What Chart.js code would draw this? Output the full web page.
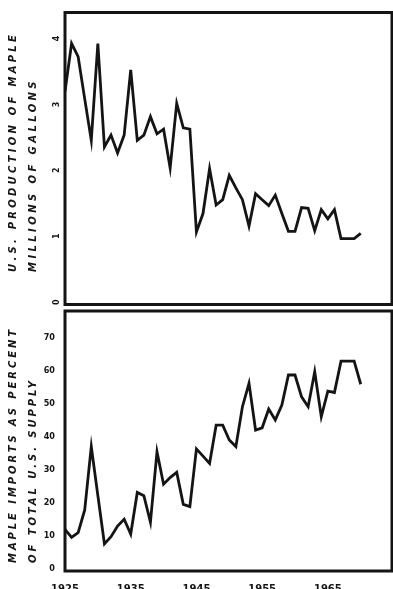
<!DOCTYPE html>
<html>
<head>
<meta charset="utf-8">
<script src="https://cdn.jsdelivr.net/npm/chart.js@4.4.1/dist/chart.umd.min.js"></script>
<style>
  html, body { margin: 0; padding: 0; background: #fff; }
  #wrap { position: relative; width: 393px; height: 589px; overflow: hidden; background: #fff; }
  #topChart { position: absolute; left: 0; top: 0; }
  #bottomChart { position: absolute; left: 0; top: 308px; }
</style>
</head>
<body>
<div id="wrap">
  <canvas id="topChart" width="393" height="308"></canvas>
  <canvas id="bottomChart" width="393" height="281"></canvas>
</div>
<script>
// years on the x axis
var years = [1925, 1926, 1927, 1928, 1929, 1930, 1931, 1932, 1933, 1934,
             1935, 1936, 1937, 1938, 1939, 1940, 1941, 1942, 1943, 1944,
             1945, 1946, 1947, 1948, 1949, 1950, 1951, 1952, 1953, 1954,
             1955, 1956, 1957, 1958, 1959, 1960, 1961, 1962, 1963, 1964,
             1965, 1966, 1967, 1968, 1969, 1970];

// U.S. production of maple, millions of gallons
var production = [3.19, 3.92, 3.72, 3.08, 2.45, 3.92, 2.35, 2.53, 2.26, 2.53,
                  3.52, 2.45, 2.53, 2.81, 2.55, 2.62, 2.03, 3.01, 2.64, 2.62,
                  1.06, 1.34, 2.02, 1.47, 1.55, 1.92, 1.73, 1.55, 1.15, 1.64,
                  1.55, 1.46, 1.62, 1.34, 1.07, 1.07, 1.43, 1.42, 1.08, 1.40,
                  1.26, 1.40, 0.96, 0.96, 0.96, 1.04];

// maple imports as percent of total U.S. supply
var imports = [12.0, 9.6, 11.0, 17.9, 37.1, 22.3, 7.6, 9.8, 13.0, 15.1,
               10.6, 23.2, 22.2, 14.2, 35.5, 25.7, 27.7, 29.3, 19.6, 18.9,
               36.4, 34.2, 32.0, 43.6, 43.6, 39.1, 37.1, 49.2, 56.3, 42.1,
               42.8, 48.5, 45.2, 49.7, 58.8, 58.8, 52.2, 49.2, 59.8, 46.2,
               53.9, 53.5, 63.0, 63.0, 63.0, 56.0];

var yearTicks = [1925, 1935, 1945, 1955, 1965];
var productionTicks = [0, 1, 2, 3, 4];
var importTicks = [0, 10, 20, 30, 40, 50, 60, 70];

var productionTitle = ['U.S. PRODUCTION OF MAPLE', 'MILLIONS OF GALLONS'];
var importTitle = ['MAPLE IMPORTS AS PERCENT', 'OF TOTAL U.S. SUPPLY'];

var ink = '#141414';

function points(values) {
    return years.map(function(yr, i) { return { x: yr, y: values[i] }; });
}

// labels must not push the plot area in
function noScalePadding(s) {
    s.paddingTop = 0;
    s.paddingBottom = 0;
    s.paddingLeft = 0;
    s.paddingRight = 0;
}

// box round the plot area
var framePlugin = {
    id: 'frame',
    beforeDatasetsDraw: function(chart) {
        var a = chart.chartArea, ctx = chart.ctx;
        ctx.save();
        ctx.strokeStyle = ink;
        ctx.lineWidth = 3;
        ctx.strokeRect(a.left, a.top, a.right - a.left, a.bottom - a.top);
        ctx.restore();
    }
};

// two-line rotated axis title, letters spread to the wanted length
var sideTitlePlugin = {
    id: 'sideTitle',
    afterDraw: function(chart, args, opts) {
        var ctx = chart.ctx;
        opts.lines.forEach(function(line) {
            ctx.save();
            ctx.font = 'italic bold 10px "DejaVu Sans", sans-serif';
            ctx.fillStyle = ink;
            ctx.letterSpacing = '0px';
            var natural = ctx.measureText(line.text).width;
            var sp = (line.length - natural) / line.text.length;
            ctx.letterSpacing = sp + 'px';
            ctx.translate(line.x, line.y);
            ctx.rotate(-Math.PI / 2);
            ctx.textAlign = 'left';
            ctx.textBaseline = 'middle';
            ctx.fillText(line.text, 0, 0);
            ctx.restore();
        });
    }
};

var lineStyle = {
    borderColor: ink,
    borderWidth: 2.8,
    pointRadius: 0,
    tension: 0,
    fill: false
};

new Chart(document.getElementById('topChart'), {
    type: 'line',
    data: {
        datasets: [Object.assign({ label: 'Production', data: points(production) }, lineStyle)]
    },
    options: {
        responsive: false,
        animation: false,
        layout: { padding: { left: 0, right: 1, top: 12.5, bottom: 3.5 } },
        plugins: {
            legend: { display: false },
            tooltip: { enabled: false },
            sideTitle: {
                lines: [
                    { text: productionTitle[0], x: 13.5, y: 272, length: 240 },
                    { text: productionTitle[1], x: 33.5, y: 272, length: 194 }
                ]
            }
        },
        scales: {
            x: { type: 'linear', display: false, min: 1925, max: 1974.76 },
            y: {
                min: -0.04, max: 4.39,
                grid: { display: false, drawTicks: false },
                border: { display: false },
                afterBuildTicks: function(s) { s.ticks = productionTicks.map(function(v) { return { value: v }; }); },
                afterFit: function(s) { s.width = 65; noScalePadding(s); },
                ticks: {
                    color: ink, padding: 8, minRotation: 90, maxRotation: 90, labelOffset: -2.5,
                    font: { family: '"DejaVu Sans", sans-serif', size: 8, weight: 'bold' }
                }
            }
        }
    },
    plugins: [framePlugin, sideTitlePlugin]
});

new Chart(document.getElementById('bottomChart'), {
    type: 'line',
    data: {
        datasets: [Object.assign({ label: 'Imports', data: points(imports) }, lineStyle)]
    },
    options: {
        responsive: false,
        animation: false,
        layout: { padding: { left: 0, right: 1, top: 3, bottom: 0 } },
        plugins: {
            legend: { display: false },
            tooltip: { enabled: false },
            sideTitle: {
                lines: [
                    { text: importTitle[0], x: 13.5, y: 255, length: 236 },
                    { text: importTitle[1], x: 33.5, y: 255, length: 185 }
                ]
            }
        },
        scales: {
            x: {
                type: 'linear', min: 1925, max: 1974.76,
                grid: { display: false, drawTicks: false },
                border: { display: false },
                afterBuildTicks: function(s) { s.ticks = yearTicks.map(function(v) { return { value: v }; }); },
                afterFit: function(s) { s.height = 18; noScalePadding(s); },
                ticks: {
                    color: ink, padding: 12.5, maxRotation: 0,
                    font: { family: '"DejaVu Sans", sans-serif', size: 10, weight: 'bold' },
                    callback: function(v) { return String(v); }
                }
            },
            y: {
                min: -0.6, max: 78.2,
                grid: { display: false, drawTicks: false },
                border: { display: false },
                afterBuildTicks: function(s) { s.ticks = importTicks.map(function(v) { return { value: v }; }); },
                afterFit: function(s) { s.width = 65; noScalePadding(s); },
                ticks: {
                    color: ink, padding: 10,
                    font: { family: '"DejaVu Sans Condensed", "DejaVu Sans", sans-serif', size: 9, weight: 'bold' }
                }
            }
        }
    },
    plugins: [framePlugin, sideTitlePlugin]
});
</script>
</body>
</html>
